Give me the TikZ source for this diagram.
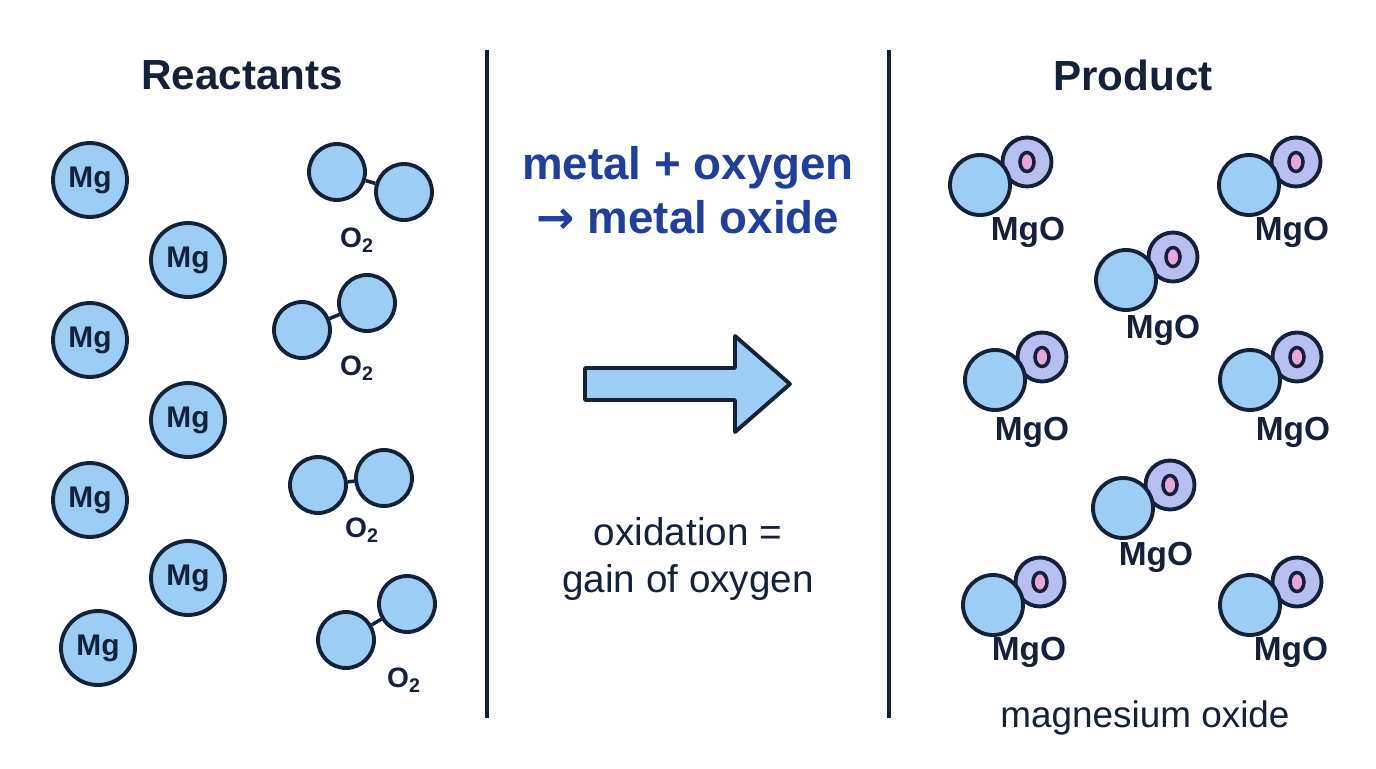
\documentclass[tikz,border=0pt]{standalone}
\usepackage{fontspec}
\setmainfont{Liberation Sans}
\usetikzlibrary{positioning,shapes.geometric}
\definecolor{atomfill}{HTML}{9CCDF5}
\definecolor{oxfill}{HTML}{B7BFF0}
\definecolor{corepink}{HTML}{E8A6DE}
\definecolor{eqblue}{HTML}{1F3F9F}
\definecolor{ink}{HTML}{14213A}
\tikzset{
  atom/.style={circle, draw=ink, line width=2.2pt, fill=atomfill, inner sep=0pt},
  mg/.style={atom, minimum size=1.48cm, font=\bfseries\fontsize{17}{17}\selectfont, text=ink},
  oo/.style={atom, minimum size=1.12cm},
  ring/.style={circle, draw=ink, line width=2.2pt, fill=oxfill, minimum size=0.98cm, inner sep=0pt},
  core/.style={ellipse, draw=ink, line width=2pt, fill=corepink, minimum width=0.28cm, minimum height=0.38cm, inner sep=0pt},
  lbl/.style={font=\bfseries\fontsize{19}{19}\selectfont, text=ink},
  title/.style={font=\bfseries\fontsize{24}{24}\selectfont, text=ink},
}
\begin{document}
\begin{tikzpicture}[x=0.02cm, y=-0.02cm]
\useasboundingbox (0,0) rectangle (1376,768);
% headings and dividers
\node[title] (reac) at (242,75) {Reactants};
\node[title] (prod) at (1133,75) {Product};
\coordinate (d1a) at (487,50); \coordinate (d1b) at (487,718);
\coordinate (d2a) at (889,50); \coordinate (d2b) at (889,718);
\draw[ink, line width=2.5pt] (d1a) -- (d1b);
\draw[ink, line width=2.5pt] (d2a) -- (d2b);
% magnesium atoms
\foreach \x/\y [count=\i] in {90/180,188/260,90/340,188/420,90/500,188/578,98/648}
  \node[mg] (mg\i) at (\x,\y) {Mg};
% oxygen molecules
\foreach \ax/\ay/\bx/\by/\lx/\ly [count=\i] in
  {337/172/404/192/357/240, 302/330/367/303/357/368, 318/485/384/478/362/530, 346/640/407/604/404/680}
{
  \node[oo] (oa\i) at (\ax,\ay) {};
  \node[oo] (ob\i) at (\bx,\by) {};
  \draw[ink, line width=2pt] (oa\i) -- (ob\i);
  \node[lbl, font=\bfseries\fontsize{16}{16}\selectfont] (ol\i) at (\lx,\ly) {O\textsubscript{2}};
}
% middle panel
\node[font=\bfseries\fontsize{26}{31}\selectfont, text=eqblue, align=center] (eq) at (688,190)
  {metal + oxygen\\{\fontspec{DejaVu Sans}\bfseries →} metal oxide};
\draw[ink, line width=2.2pt, fill=atomfill, line join=round]
  (585,368) -- (735,368) -- (735,336) -- (790,384) -- (735,432) -- (735,400) -- (585,400) -- cycle;
\node[font=\fontsize{22}{27}\selectfont, text=ink, align=center] (ox) at (688,559)
  {oxidation =\\gain of oxygen};
% magnesium oxide
\foreach \ax/\ay/\lx/\ly [count=\i] in
  {980/185/1028/232, 1249/185/1292/232, 1126/280/1163/330, 995/380/1032/432,
   1250/380/1293/432, 1123/508/1156/557, 993/605/1029/652, 1250/605/1291/652}
{
  \node[ring] (ring\i) at (\ax+47,\ay-23) {};
  \node[core] (core\i) at (ring\i) {};
  \node[atom, minimum size=1.2cm] (mgo\i) at (\ax,\ay) {};
  \node[lbl] (ml\i) at (\lx,\ly) {MgO};
}
\node[font=\fontsize{21}{21}\selectfont, text=ink] (name) at (1145,718) {magnesium oxide};
\end{tikzpicture}
\end{document}
